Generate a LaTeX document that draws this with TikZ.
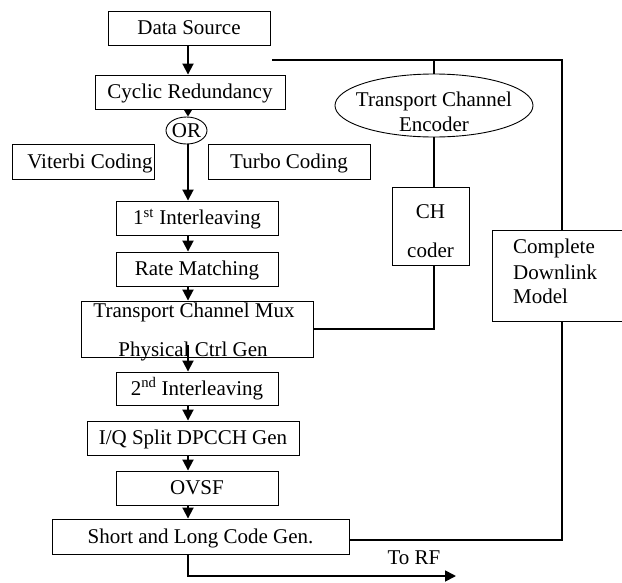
\documentclass[tikz,border=0pt]{standalone}
\usepackage{fontspec}
\setmainfont{Liberation Serif}
\usetikzlibrary{arrows.meta,shapes.geometric,calc}
\begin{document}
\begin{tikzpicture}[x=1pt,y=-1pt,
  fnt/.style={font=\fontsize{21}{25}\selectfont},
  box/.style={draw=black,line width=0.9pt,inner sep=0pt,fnt,text height=13.5pt,text depth=0pt},
  oval/.style={draw=black,line width=0.9pt,ellipse,inner sep=0pt},
  txt/.style={inner sep=0pt,fnt,anchor=base},
  conn/.style={line width=1.8pt,black},
  arr/.style={conn,-{Triangle[length=11pt,width=11pt]}},
  smallarr/.style={conn,-{Triangle[length=7pt,width=8pt]}},
]
\useasboundingbox (0,0) rectangle (622,582);

% main chain boxes
\node[box,minimum width=162pt,minimum height=34pt] (ds) at (189,28) {Data Source};
\node[box,minimum width=190pt,minimum height=34pt] (crc) at (190,92) {Cyclic Redundancy};
\node[oval,minimum width=41pt,minimum height=27pt] (or) at (186.5,130.5) {};
\node[txt] (ortxt) at (186.5,137) {OR};
\node[box,minimum width=142pt,minimum height=35pt] (vit) at (83,161.5) {};
\node[txt] (vittxt) at (90,168) {Viterbi Coding};
\node[box,minimum width=162pt,minimum height=35pt] (turbo) at (289,161.5) {Turbo Coding};
\node[box,minimum width=162pt,minimum height=34pt] (il1) at (197,218) {1\textsuperscript{st} Interleaving};
\node[box,minimum width=162pt,minimum height=34pt] (rm) at (197,269) {Rate Matching};
\node[box,minimum width=232pt,minimum height=56pt] (mux) at (197,329) {};
\node[txt] (muxa) at (194,317) {Transport Channel Mux};
\node[txt] (muxb) at (193,356) {Physical Ctrl Gen};
\node[box,minimum width=162pt,minimum height=33pt] (il2) at (197,388.5) {2\textsuperscript{nd} Interleaving};
\node[box,minimum width=212pt,minimum height=34pt] (iq) at (193,438) {I/Q Split DPCCH Gen};
\node[box,minimum width=162pt,minimum height=34pt] (ovsf) at (197,488) {OVSF};
\node[box,minimum width=297pt,minimum height=35pt] (slc) at (200.5,536.5) {Short and Long Code Gen.};

% right side
\node[oval,minimum width=198pt,minimum height=63pt] (tce) at (434,105.5) {};
\node[txt] (tcea) at (434,106) {Transport Channel};
\node[txt] (tceb) at (434,131) {Encoder};
\node[box,minimum width=77pt,minimum height=78pt] (ch) at (430.5,226) {};
\node[txt] (cha) at (430.5,218) {CH};
\node[txt] (chb) at (430.5,257) {coder};
\node[box,minimum width=148pt,minimum height=91pt] (cdm) at (566,275.5) {};
\node[txt,anchor=base west] (cdma) at (513,253) {Complete};
\node[txt,anchor=base west] (cdmb) at (513,279) {Downlink};
\node[txt,anchor=base west] (cdmc) at (513,303) {Model};
\node[txt] (torf) at (414,564) {To RF};

% coordinates
\coordinate (ax) at (188,0);
\coordinate (tl) at (272,60);
\coordinate (tr) at (562,60);
\coordinate (br) at (562,540);
\coordinate (rf) at (456,576);

% main arrows
\draw[arr] (ds.south -| ax) -- (crc.north -| ax);
\draw[smallarr] (crc.south -| ax) -- (or.north -| ax);
\draw[arr] (or.south -| ax) -- (il1.north -| ax);
\draw[arr] (il1.south -| ax) -- (rm.north -| ax);
\draw[arr] (rm.south -| ax) -- (mux.north -| ax);
\draw[arr] ($(mux.south -| ax)+(0,-12)$) -- (il2.north -| ax);
\draw[arr] (il2.south -| ax) -- (iq.north -| ax);
\draw[arr] (iq.south -| ax) -- (ovsf.north -| ax);
\draw[arr] (ovsf.south -| ax) -- (slc.north -| ax);
\draw[arr] (slc.south -| ax) |- (rf);

% feedback lines
\draw[conn] (tl) -- (tr) -- (cdm.north -| tr);
\draw[conn] (tce.north) -- (tce.north |- tl);
\draw[conn] (tce.south) -- (ch.north -| tce.south);
\draw[conn] (ch.south -| tce.south) |- (mux.east);
\draw[conn] (cdm.south -| tr) -- (br) -- (slc.east |- br);
\end{tikzpicture}
\end{document}
